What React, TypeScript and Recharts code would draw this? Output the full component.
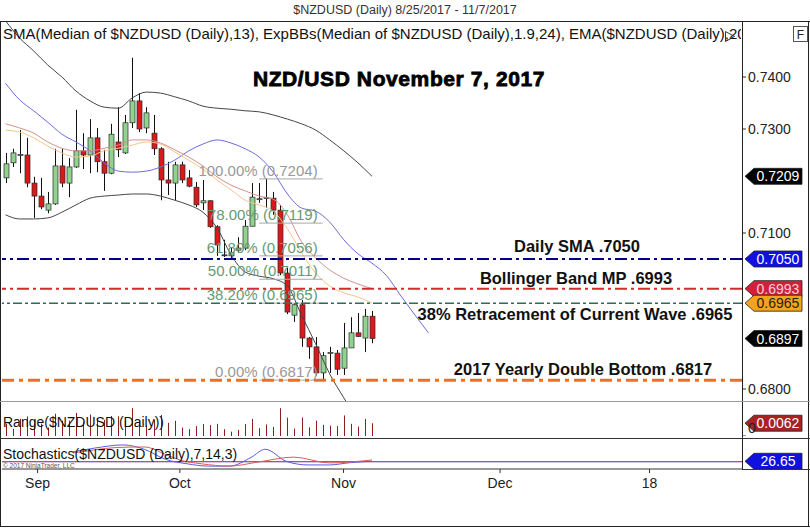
import React from 'react';
import { ComposedChart, Bar, Line, XAxis, YAxis, ReferenceLine } from 'recharts';

// trading days 8/25/2017 - 11/7/2017
const dates = [
  '8/25', '8/28', '8/29', '8/30', '8/31', '9/1', '9/4', '9/5', '9/6', '9/7', '9/8',
  '9/11', '9/12', '9/13', '9/14', '9/15', '9/18', '9/19', '9/20', '9/21', '9/22',
  '9/25', '9/26', '9/27', '9/28', '9/29', '10/2', '10/3', '10/4', '10/5', '10/6',
  '10/9', '10/10', '10/11', '10/12', '10/13', '10/16', '10/17', '10/18', '10/19', '10/20',
  '10/23', '10/24', '10/25', '10/26', '10/27', '10/30', '10/31', '11/1', '11/2', '11/3',
  '11/6', '11/7',
];

const open = [
  0.7206, 0.7235, 0.7249, 0.7250, 0.7196, 0.7171, 0.7144, 0.7156, 0.7229, 0.7196,
  0.7227, 0.7258, 0.7250, 0.7283, 0.7237, 0.7215, 0.7275, 0.7254, 0.7312, 0.7354,
  0.7302, 0.7292, 0.7262, 0.7202, 0.7196, 0.7231, 0.7206, 0.7188, 0.7158, 0.7162,
  0.7112, 0.7058, 0.7056, 0.7067, 0.7071, 0.7113, 0.7165, 0.7167, 0.7167, 0.7144,
  0.7023, 0.6942, 0.6962, 0.6898, 0.6881, 0.6831, 0.6868, 0.6869, 0.6840, 0.6879,
  0.6908, 0.6898, 0.6940,
];
const high = [
  0.7254, 0.7262, 0.7298, 0.7283, 0.7208, 0.7206, 0.7179, 0.7262, 0.7262, 0.7244,
  0.7337, 0.7292, 0.7319, 0.7302, 0.7260, 0.7310, 0.7342, 0.7327, 0.7437, 0.7369,
  0.7342, 0.7327, 0.7265, 0.7237, 0.7237, 0.7237, 0.7221, 0.7198, 0.7202, 0.7163,
  0.7115, 0.7087, 0.7073, 0.7092, 0.7125, 0.7196, 0.7196, 0.7204, 0.7179, 0.7154,
  0.7033, 0.6965, 0.6971, 0.6900, 0.6900, 0.6871, 0.6881, 0.6875, 0.6927, 0.6938,
  0.6946, 0.6954, 0.6950,
];
const low = [
  0.7196, 0.7227, 0.7215, 0.7188, 0.7129, 0.7146, 0.7138, 0.7154, 0.7188, 0.7169,
  0.7225, 0.7223, 0.7215, 0.7217, 0.7181, 0.7213, 0.7246, 0.7252, 0.7302, 0.7294,
  0.7292, 0.7250, 0.7163, 0.7173, 0.7163, 0.7196, 0.7188, 0.7150, 0.7144, 0.7110,
  0.7056, 0.7054, 0.7052, 0.7062, 0.7067, 0.7113, 0.7158, 0.7148, 0.7135, 0.7019,
  0.6944, 0.6929, 0.6881, 0.6858, 0.6826, 0.6817, 0.6831, 0.6827, 0.6827, 0.6879,
  0.6900, 0.6871, 0.6888,
];
const close = [
  0.7233, 0.7254, 0.7251, 0.7196, 0.7171, 0.7150, 0.7156, 0.7229, 0.7196, 0.7227,
  0.7258, 0.7250, 0.7283, 0.7237, 0.7215, 0.7290, 0.7260, 0.7312, 0.7354, 0.7300,
  0.7331, 0.7262, 0.7202, 0.7196, 0.7231, 0.7202, 0.7190, 0.7154, 0.7162, 0.7112,
  0.7077, 0.7057, 0.7062, 0.7071, 0.7113, 0.7169, 0.7166, 0.7168, 0.7144, 0.7023,
  0.6948, 0.6962, 0.6898, 0.6881, 0.6831, 0.6864, 0.6870, 0.6838, 0.6879, 0.6908,
  0.6901, 0.6940, 0.6897,
];

// overlay studies, read every other bar
const studyStep = 2;
const upperBand = [
  0.7508, 0.7475, 0.7450, 0.7423, 0.7400, 0.7373, 0.7354, 0.7342, 0.7340, 0.7360,
  0.7371, 0.7369, 0.7362, 0.7354, 0.7344, 0.7340, 0.7338, 0.7335, 0.7333, 0.7327,
  0.7319, 0.7310, 0.7298, 0.7279, 0.7258, 0.7235, 0.7209,
];
const lowerBand = [
  0.7135, 0.7127, 0.7127, 0.7129, 0.7140, 0.7154, 0.7167, 0.7171, 0.7173, 0.7175,
  0.7175, 0.7171, 0.7163, 0.7154, 0.7140, 0.7110, 0.7058, 0.7025, 0.7017, 0.7012,
  0.6998, 0.6942, 0.6887, 0.6829, 0.6783, 0.6740, 0.6702,
];
const blueLine = [
  0.7388, 0.7356, 0.7335, 0.7313, 0.7290, 0.7275, 0.7258, 0.7235, 0.7219, 0.7217,
  0.7219, 0.7227, 0.7240, 0.7258, 0.7271, 0.7279, 0.7273, 0.7262, 0.7246, 0.7217,
  0.7175, 0.7148, 0.7142, 0.7121, 0.7087, 0.7060, 0.7042, 0.7019, 0.6981, 0.6944,
  0.6908,
];
const smaLine = [
  0.7310, 0.7302, 0.7292, 0.7275, 0.7263, 0.7258, 0.7258, 0.7263, 0.7269, 0.7279,
  0.7279, 0.7273, 0.7260, 0.7246, 0.7229, 0.7208, 0.7192, 0.7181, 0.7171, 0.7165,
  0.7135, 0.7083, 0.7052, 0.7029, 0.7013, 0.7002, 0.6993,
];
const emaLine = [
  0.7298, 0.7294, 0.7283, 0.7267, 0.7254, 0.7246, 0.7248, 0.7258, 0.7263, 0.7269,
  0.7275, 0.7271, 0.7256, 0.7240, 0.7223, 0.7202, 0.7183, 0.7163, 0.7154, 0.7142,
  0.7108, 0.7062, 0.7023, 0.6998, 0.6985, 0.6977, 0.6965,
];

const stochKAt = [10, 13, 17, 20, 23, 26, 29, 32, 35, 37, 40, 43, 46, 49, 52];
const stochK = [59, 72, 83, 68, 33, 18, 10, 10, 40, 68, 26, 14, 14, 22, 26.65];
const stochDAt = [10, 13, 16, 20, 23, 25, 28, 32, 36, 41, 46, 52];
const stochD = [55, 66, 74, 76, 50, 31, 18, 10, 24, 41, 21, 31];

const fibLevels = [0.7204, 0.7119, 0.7056, 0.7011, 0.6965, 0.6817];
const fibNames = ['100.00%', '78.00%', '61.80%', '50.00%', '38.20%', '0.00%'];

const priceTicks = [0.74, 0.73, 0.71, 0.68];
const monthTicks = [5, 25, 48, 70, 91];
const monthNames = ['Sep', 'Oct', 'Nov', 'Dec', '18'];

const slots = 105;
const FONT = '"Liberation Sans", Arial, sans-serif';

const rows = Array.from({ length: slots }, (_, i) => {
  const r: any = { i, date: dates[i] };
  if (i < open.length) {
    r.o = open[i];
    r.h = high[i];
    r.l = low[i];
    r.c = close[i];
    r.hl = [low[i], high[i]];
    r.range = +(high[i] - low[i]).toFixed(4);
  }
  if (i % studyStep === 0) {
    const j = i / studyStep;
    if (j < upperBand.length) r.upper = upperBand[j];
    if (j < lowerBand.length) r.lower = lowerBand[j];
    if (j < blueLine.length) r.blue = blueLine[j];
    if (j < smaLine.length) r.sma = smaLine[j];
    if (j < emaLine.length) r.ema = emaLine[j];
  }
  const k = stochKAt.indexOf(i);
  if (k >= 0) r.k = stochK[k];
  const d = stochDAt.indexOf(i);
  if (d >= 0) r.d = stochD[d];
  return r;
});

function Candle(props: any) {
  const { x, y, width, height, payload } = props;
  if (!payload || payload.o == null) return null;
  const { o, h, l, c } = payload;
  const top = Math.min(y, y + height);
  const span = Math.abs(height);
  const py = (p: number) => (h === l ? top : top + ((h - p) / (h - l)) * span);
  const cx = Math.round(x + width / 2) + 0.5;
  const up = c >= o;
  const bt = py(Math.max(o, c));
  const bb = py(Math.min(o, c));
  return (
    <g>
      <line x1={cx} x2={cx} y1={top} y2={top + span} stroke="#111" strokeWidth={1} />
      <rect
        x={cx - 2.5}
        y={bt}
        width={5}
        height={Math.max(1, bb - bt)}
        fill={up ? '#8fd38f' : '#da1a1a'}
        stroke="#2a2a2a"
        strokeWidth={0.7}
      />
    </g>
  );
}

function RangeTick(props: any) {
  const { x, y, width, height, payload } = props;
  if (!payload || payload.range == null) return null;
  const cx = Math.round(x + width / 2) + 0.5;
  return <line x1={cx} x2={cx} y1={y} y2={y + height} stroke="#8b1e1e" strokeWidth={1} />;
}

function Flag(props: any) {
  const { viewBox, text, bg, fg } = props;
  if (!viewBox) return null;
  const ax = viewBox.x + viewBox.width;
  const y = viewBox.y;
  const h = 8;
  return (
    <g>
      <path
        d={`M${ax + 3},${y} L${ax + 12},${y - h} L${ax + 60},${y - h} L${ax + 60},${y + h} L${ax + 12},${y + h} Z`}
        fill={bg}
        stroke="#222"
        strokeWidth={0.8}
      />
      <text x={ax + 36} y={y + 5} textAnchor="middle" fill={fg} fontSize={14} fontFamily={FONT}>
        {text}
      </text>
    </g>
  );
}

function NoteLabel(props: any) {
  const { viewBox, text, cx, dy } = props;
  if (!viewBox) return null;
  return (
    <text
      x={cx}
      y={viewBox.y + dy}
      textAnchor="middle"
      fontSize={16.5}
      fontWeight="bold"
      fill="#111"
      fontFamily={FONT}
    >
      {text}
    </text>
  );
}

function FibLabel(props: any) {
  const { viewBox, text, color } = props;
  if (!viewBox) return null;
  return (
    <text
      x={viewBox.x + viewBox.width - 5}
      y={viewBox.y - 3}
      textAnchor="end"
      fontSize={15}
      fill={color}
      fontFamily={FONT}
    >
      {text}
    </text>
  );
}

const margin = { top: 0, right: 0, bottom: 0, left: 2 };

export default function App() {
  return (
    <div style={{ position: 'absolute', left: 0, top: 0, width: 810, height: 528, background: '#fff', fontFamily: FONT }}>
      {/* price panel */}
      <div style={{ position: 'absolute', left: 0, top: 22 }}>
        <ComposedChart width={810} height={379} data={rows} margin={margin}>
          <XAxis dataKey="i" type="category" hide />
          <YAxis
            orientation="right"
            width={68}
            domain={[0.677692, 0.750577]}
            allowDataOverflow
            ticks={priceTicks}
            tickFormatter={(v: number) => v.toFixed(4)}
            axisLine={false}
            tickLine={{ stroke: '#333' }}
            tickSize={4}
            tickMargin={2}
            tick={{ fill: '#222', fontSize: 14, fontFamily: FONT }}
          />
          <Line dataKey="upper" stroke="#454545" strokeWidth={1} dot={false} connectNulls type="monotone" isAnimationActive={false} />
          <Line dataKey="lower" stroke="#454545" strokeWidth={1} dot={false} connectNulls type="monotone" isAnimationActive={false} />
          <Line dataKey="blue" stroke="#6b6bd8" strokeWidth={1} dot={false} connectNulls type="monotone" isAnimationActive={false} />
          <Line dataKey="sma" stroke="#d4908c" strokeWidth={1} dot={false} connectNulls type="monotone" isAnimationActive={false} />
          <Line dataKey="ema" stroke="#f2c68c" strokeWidth={1} dot={false} connectNulls type="monotone" isAnimationActive={false} />

          {fibLevels.map((lv, n) => (
            <ReferenceLine
              key={'fib' + n}
              segment={[{ x: 36, y: lv }, { x: 45, y: lv }]}
              stroke="#a8a8a8"
              strokeWidth={1}
              label={
                <FibLabel
                  text={`${fibNames[n]} (${lv.toFixed(4)})`}
                  color={n === 0 || n === fibLevels.length - 1 ? '#999999' : '#669977'}
                />
              }
            />
          ))}

          <ReferenceLine y={0.705} stroke="#000080" strokeWidth={2} strokeDasharray="12 4 3 4"
            label={<NoteLabel text="Daily SMA .7050" cx={577} dy={-7} />} />
          <ReferenceLine y={0.6993} stroke="#d42a2a" strokeWidth={2} strokeDasharray="12 4 3 4"
            label={<NoteLabel text="Bollinger Band MP .6993" cx={576} dy={-5} />} />
          <ReferenceLine y={0.6965} stroke="#2f6b55" strokeWidth={1.5} strokeDasharray="9 3 3 3"
            label={<NoteLabel text="38% Retracement of Current Wave .6965" cx={575} dy={17} />} />
          <ReferenceLine y={0.6817} stroke="#ec7021" strokeWidth={3} strokeDasharray="12 5 4 5"
            label={<NoteLabel text="2017 Yearly Double Bottom .6817" cx={583} dy={-5} />} />

          <Bar dataKey="hl" barSize={5} shape={<Candle />} isAnimationActive={false} />

          <ReferenceLine y={0.7209} stroke="none" label={<Flag text="0.7209" bg="#000" fg="#fff" />} />
          <ReferenceLine y={0.705} stroke="none" label={<Flag text="0.7050" bg="#1010e0" fg="#fff" />} />
          <ReferenceLine y={0.6993} stroke="none" label={<Flag text="0.6993" bg="#d2203c" fg="#ffd0d0" />} />
          <ReferenceLine y={0.6965} stroke="none" label={<Flag text="0.6965" bg="#f4a31c" fg="#222" />} />
          <ReferenceLine y={0.6897} stroke="none" label={<Flag text="0.6897" bg="#000" fg="#fff" />} />
        </ComposedChart>
      </div>

      {/* range panel */}
      <div style={{ position: 'absolute', left: 0, top: 402 }}>
        <ComposedChart width={810} height={34} data={rows} margin={margin}>
          <XAxis dataKey="i" type="category" hide />
          <YAxis
            orientation="right"
            width={68}
            domain={[0, 0.0165]}
            ticks={[0]}
            axisLine={false}
            tickLine={{ stroke: '#333' }}
            tickSize={4}
            tickMargin={2}
            tick={{ fill: '#222', fontSize: 14, fontFamily: FONT }}
          />
          <Bar dataKey="range" barSize={1} shape={<RangeTick />} isAnimationActive={false} />
          <ReferenceLine y={0.0062} stroke="none" label={<Flag text="0.0062" bg="#a52323" fg="#fff" />} />
        </ComposedChart>
      </div>

      {/* stochastics panel + date axis */}
      <div style={{ position: 'absolute', left: 0, top: 439 }}>
        <ComposedChart width={810} height={89} data={rows} margin={{ ...margin, top: 1 }}>
          <XAxis
            dataKey="i"
            type="category"
            height={59}
            ticks={monthTicks}
            interval={0}
            tickFormatter={(v: number) => monthNames[monthTicks.indexOf(v)] ?? ''}
            axisLine={{ stroke: '#333' }}
            tickLine={{ stroke: '#333' }}
            tickSize={4}
            tickMargin={5}
            tick={{ fill: '#222', fontSize: 14, fontFamily: FONT }}
          />
          <YAxis orientation="right" width={68} domain={[0, 100]} tick={false} axisLine={false} tickLine={false} />
          <ReferenceLine y={25} stroke="#7a1f7a" strokeWidth={1} />
          <Line dataKey="k" stroke="#5a5ae0" strokeWidth={1} dot={false} connectNulls type="monotone" isAnimationActive={false} />
          <Line dataKey="d" stroke="#e05a5a" strokeWidth={1} dot={false} connectNulls type="monotone" isAnimationActive={false} />
          <ReferenceLine y={26.65} stroke="none" label={<Flag text="26.65" bg="#1010e0" fg="#fff" />} />
        </ComposedChart>
      </div>

      {/* frame and texts */}
      <svg width={810} height={528} style={{ position: 'absolute', left: 0, top: 0, pointerEvents: 'none' }}>
        <defs>
          <clipPath id="hdrClip">
            <rect x={0} y={22} width={741} height={30} />
          </clipPath>
        </defs>
        <text x={405} y={14} textAnchor="middle" fontSize={12.5} fill="#333" fontFamily={FONT}>
          $NZDUSD (Daily)  8/25/2017 - 11/7/2017
        </text>
        <line x1={0} x2={810} y1={21.5} y2={21.5} stroke="#222" />
        <line x1={0.5} x2={0.5} y1={21} y2={527} stroke="#222" />
        <line x1={808.5} x2={808.5} y1={21} y2={527} stroke="#222" />
        <line x1={0} x2={810} y1={526.5} y2={526.5} stroke="#222" />
        <line x1={742.5} x2={742.5} y1={21} y2={469} stroke="#222" />
        <line x1={0} x2={810} y1={401.5} y2={401.5} stroke="#9a9a9a" />
        <line x1={0} x2={810} y1={438.5} y2={438.5} stroke="#333" />
        <line x1={742} x2={810} y1={469.5} y2={469.5} stroke="#333" />
        <rect x={793.5} y={26.5} width={14} height={15} fill="#fff" stroke="#555" />
        <text x={800.5} y={39} textAnchor="middle" fontSize={12} fill="#222" fontFamily={FONT}>F</text>
        <text x={3} y={39} fontSize={15} fill="#111" fontFamily={FONT} clipPath="url(#hdrClip)">
          SMA(Median of $NZDUSD (Daily),13), ExpBBs(Median of $NZDUSD (Daily),1.9,24), EMA($NZDUSD (Daily),20)
        </text>
        <path d="M725.5,31.5 L734.5,36.5 L725.5,41.5 Z" fill="none" stroke="#333" />
        <text x={399} y={86} textAnchor="middle" fontSize={21} fontWeight="bold" fill="#000"
          stroke="#000" strokeWidth={0.8} fontFamily={FONT} letterSpacing={0.6}>
          NZD/USD November 7, 2017
        </text>
        <text x={3} y={427} fontSize={14} fill="#111" fontFamily={FONT}>Range($NZDUSD (Daily))</text>
        <text x={3} y={459} fontSize={14} fill="#111" fontFamily={FONT}>Stochastics($NZDUSD (Daily),7,14,3)</text>
        <text x={3} y={467.5} fontSize={6.5} fill="#555" fontFamily={FONT}>© 2017 NinjaTrader, LLC</text>
      </svg>
    </div>
  );
}
